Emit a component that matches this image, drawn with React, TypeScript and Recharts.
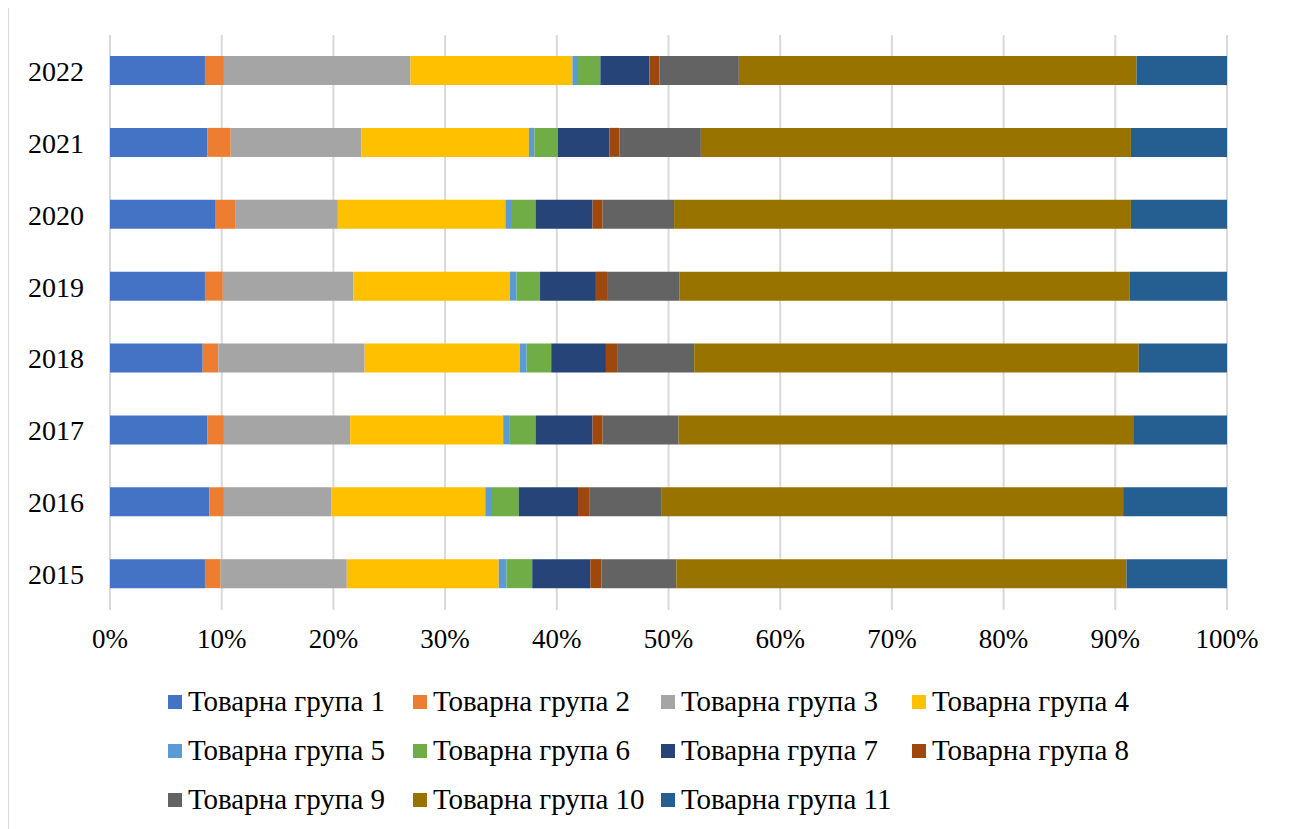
import React from "react";
import { BarChart, Bar, XAxis, YAxis, CartesianGrid, Legend } from "recharts";

const years = ["2015", "2016", "2017", "2018", "2019", "2020", "2021", "2022"];

const group1 = [8.5, 8.9, 8.7, 8.3, 8.5, 9.4, 8.7, 8.5];
const group2 = [1.4, 1.3, 1.5, 1.4, 1.6, 1.8, 2.1, 1.7];
const group3 = [11.3, 9.6, 11.3, 13.1, 11.7, 9.2, 11.7, 16.7];
const group4 = [13.6, 13.8, 13.7, 13.9, 14.0, 15.0, 15.0, 14.5];
const group5 = [0.7, 0.6, 0.6, 0.6, 0.6, 0.5, 0.5, 0.5];
const group6 = [2.3, 2.4, 2.3, 2.2, 2.1, 2.2, 2.1, 2.0];
const group7 = [5.2, 5.3, 5.1, 4.9, 5.0, 5.1, 4.6, 4.4];
const group8 = [1.0, 1.0, 0.9, 1.0, 1.0, 0.9, 0.9, 0.9];
const group9 = [6.7, 6.5, 6.8, 6.9, 6.5, 6.4, 7.3, 7.1];
const group10 = [40.3, 41.3, 40.7, 39.8, 40.3, 40.9, 38.5, 35.6];
const group11 = [9.0, 9.3, 8.4, 7.9, 8.7, 8.6, 8.6, 8.1];

const seriesNames = [
  "Товарна група 1",
  "Товарна група 2",
  "Товарна група 3",
  "Товарна група 4",
  "Товарна група 5",
  "Товарна група 6",
  "Товарна група 7",
  "Товарна група 8",
  "Товарна група 9",
  "Товарна група 10",
  "Товарна група 11",
];

const seriesValues = [group1, group2, group3, group4, group5, group6, group7, group8, group9, group10, group11];

const colors = [
  "#4472C4",
  "#ED7D31",
  "#A5A5A5",
  "#FFC000",
  "#5B9BD5",
  "#70AD47",
  "#264478",
  "#9E480E",
  "#636363",
  "#997300",
  "#255E91",
];

const xTicks = [0, 10, 20, 30, 40, 50, 60, 70, 80, 90, 100];

const data = years.map((y, i) => {
  const row: Record<string, any> = { year: y };
  seriesNames.forEach((n, k) => {
    row["g" + k] = seriesValues[k][i];
  });
  return row;
});

const FONT = '"Liberation Serif", "DejaVu Serif", serif';

const renderLegend = () => (
  <div
    style={{
      display: "grid",
      gridTemplateColumns: "245px 248px 251px 248px",
      gridAutoRows: "49px",
      fontFamily: FONT,
      fontSize: 29,
      color: "#000",
    }}
  >
    {seriesNames.map((n, k) => (
      <div key={n} style={{ display: "flex", alignItems: "center", whiteSpace: "nowrap" }}>
        <span
          style={{
            display: "inline-block",
            width: 14,
            height: 14,
            background: colors[k],
            marginRight: 6,
            flex: "none",
          }}
        />
        <span style={{ fontFamily: FONT }}>{n}</span>
      </div>
    ))}
  </div>
);

export default function App() {
  return (
    <div
      style={{
        width: 1280,
        height: 822,
        border: "1px solid #d9d9d9",
        marginTop: -1,
        fontFamily: FONT,
        background: "#fff",
      }}
    >
      <BarChart
        width={1280}
        height={822}
        data={data}
        layout="vertical"
        margin={{ top: 27, right: 62, left: 11, bottom: 6 }}
        barSize={29}
        style={{ fontFamily: FONT }}
      >
        <CartesianGrid horizontal={false} vertical={true} stroke="#d9d9d9" strokeWidth={2} />
        <XAxis
          type="number"
          domain={[0, 100]}
          ticks={xTicks}
          tickFormatter={(v: number) => v + "%"}
          axisLine={false}
          tickLine={false}
          tickSize={0}
          tickMargin={19}
          height={67}
          interval={0}
          tick={{ fill: "#000", fontSize: 27, fontFamily: FONT }}
        />
        <YAxis
          type="category"
          dataKey="year"
          reversed={true}
          axisLine={false}
          tickLine={false}
          tickSize={0}
          tickMargin={26}
          width={90}
          interval={0}
          tick={{ fill: "#000", fontSize: 28, fontFamily: FONT }}
        />
        <Legend
          verticalAlign="bottom"
          content={renderLegend}
          wrapperStyle={{ left: 159, width: 1000, top: 669, bottom: "auto" }}
        />
        {seriesNames.map((n, k) => (
          <Bar
            key={n}
            dataKey={"g" + k}
            name={n}
            stackId="s"
            fill={colors[k]}
            isAnimationActive={false}
          />
        ))}
      </BarChart>
    </div>
  );
}
